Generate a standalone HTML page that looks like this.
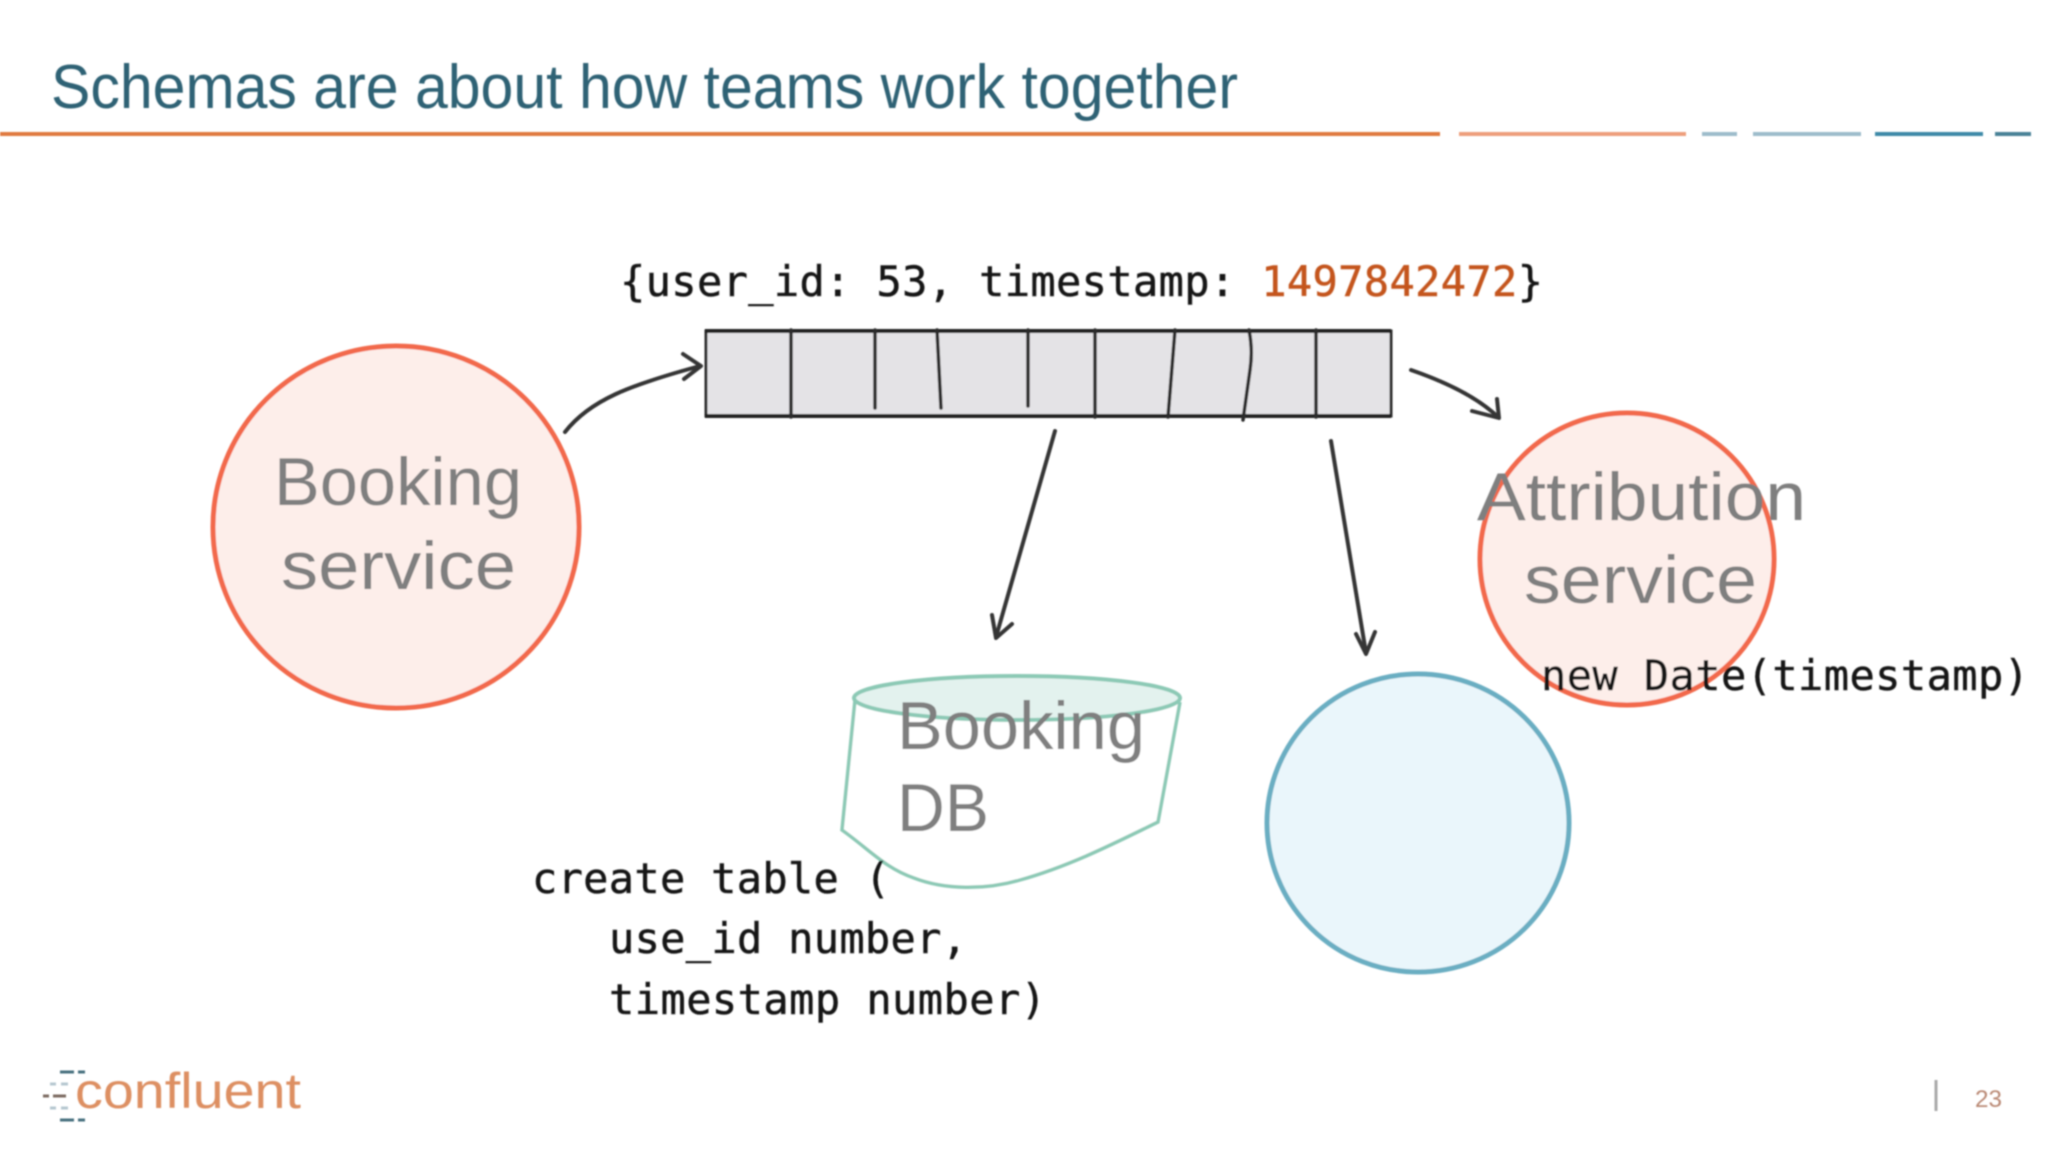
<!DOCTYPE html>
<html lang="en">
<head>
<meta charset="utf-8">
<title>Schemas are about how teams work together</title>
<style>
html,body{margin:0;padding:0;background:#fff;width:2048px;height:1152px;overflow:hidden}
svg{display:block}
.mono{font-family:"DejaVu Sans Mono","Liberation Mono",monospace;font-size:42px;fill:#151515;stroke:#151515;stroke-width:.5px}
.hand{font-family:"Liberation Sans",sans-serif;fill:#7f7f7f;font-size:68px}
</style>
</head>
<body>
<svg width="2048" height="1152" viewBox="0 0 2048 1152" xmlns="http://www.w3.org/2000/svg">
<defs><filter id="b" x="-5%" y="-5%" width="110%" height="110%"><feGaussianBlur stdDeviation="0.7"/></filter></defs>
<g filter="url(#b)">
<text x="51" y="108" font-family="Liberation Sans, sans-serif" font-size="62" fill="#2f6275" textLength="1187" lengthAdjust="spacingAndGlyphs">Schemas are about how teams work together</text>
<g stroke-width="4" fill="none">
<path d="M0 134H1440" stroke="#e07a3f"/>
<path d="M1459 134H1686" stroke="#ee9f7c"/>
<path d="M1702 134H1737M1753 134H1861" stroke="#9dbccb"/>
<path d="M1875 134H1983" stroke="#3c8aa8"/>
<path d="M1995 134H2031" stroke="#4a8297"/>
</g>

<ellipse cx="396" cy="527" rx="183" ry="181" fill="#fdeeea" stroke="#f2694c" stroke-width="5"/>
<text class="hand" x="274" y="505" textLength="248" lengthAdjust="spacingAndGlyphs">Booking</text>
<text class="hand" x="281" y="589" textLength="235" lengthAdjust="spacingAndGlyphs">service</text>

<text class="mono" x="620" y="296" textLength="923" lengthAdjust="spacing">{user_id: 53, timestamp: <tspan fill="#c4551f" stroke="#c4551f">1497842472</tspan>}</text>

<rect x="706" y="331" width="685" height="85" fill="#e4e3e6" stroke="#2f2f2f" stroke-width="3"/>
<path d="M705 331H1391" stroke="#222" stroke-width="4" fill="none"/>
<path d="M705 416H1391" stroke="#222" stroke-width="4" fill="none"/>
<g stroke="#2b2b2b" stroke-width="3.5" fill="none" stroke-linecap="round">
<path d="M791 330V417"/>
<path d="M875 330V408"/>
<path d="M937 330L941 408"/>
<path d="M1028 330V406"/>
<path d="M1095 330V417"/>
<path d="M1175 330L1168 417"/>
<path d="M1249 330Q1253 350 1250 370L1243 420"/>
<path d="M1316 330V417"/>
</g>

<g stroke="#363636" stroke-width="4" fill="none" stroke-linecap="round" stroke-linejoin="round">
<path d="M565 432C590 400 630 385 700 366"/>
<path d="M683 354L701 366L684 379"/>
<path d="M1411 370C1440 380 1475 395 1498 417"/>
<path d="M1472 411L1499 418L1497 399"/>
<path d="M1055 431L996 637"/>
<path d="M992 615L996 638L1012 624"/>
<path d="M1331 441L1366 653"/>
<path d="M1356 634L1366 654L1375 632"/>
</g>

<ellipse cx="1627" cy="559" rx="147" ry="146" fill="#fdeeea" stroke="#f2694c" stroke-width="5"/>
<text class="hand" x="1477" y="520" textLength="329" lengthAdjust="spacingAndGlyphs">Attribution</text>
<text class="hand" x="1524" y="603" textLength="233" lengthAdjust="spacingAndGlyphs">service</text>
<text class="mono" x="1541" y="690" textLength="488" lengthAdjust="spacing">new Date(timestamp)</text>

<path d="M855 700L842 830C870 850 885 868 914 878C945 890 985 890 1020 880C1070 866 1115 843 1158 822L1180 702" fill="#fff" stroke="#8cc9b5" stroke-width="3.5"/>
<ellipse cx="1017" cy="698" rx="163" ry="22" fill="#e3f2ee" stroke="#8cc9b5" stroke-width="4"/>
<text class="hand" x="897" y="749" textLength="248" lengthAdjust="spacingAndGlyphs">Booking</text>
<text class="hand" x="897" y="831" textLength="92" lengthAdjust="spacingAndGlyphs">DB</text>

<text class="mono" x="532" y="893" textLength="358" lengthAdjust="spacing">create table (</text>
<text class="mono" x="609" y="953" textLength="358" lengthAdjust="spacing">use_id number,</text>
<text class="mono" x="609" y="1014" textLength="437" lengthAdjust="spacing">timestamp number)</text>

<ellipse cx="1418" cy="823" rx="151" ry="149" fill="#eaf6fb" stroke="#6aaec2" stroke-width="5"/>

<g stroke-width="3" fill="none">
<path d="M60 1072H74M78 1072H85" stroke="#46707f"/>
<path d="M50 1084H56M61 1084H68" stroke="#b5c7d0"/>
<path d="M43 1096H49M53 1096H66" stroke="#7b6a60"/>
<path d="M50 1108H56M61 1108H68" stroke="#b5c7d0"/>
<path d="M60 1120H74M78 1120H85" stroke="#46707f"/>
</g>
<text x="75" y="1108" font-family="Liberation Sans, sans-serif" font-size="50" fill="#dd8f62" textLength="226" lengthAdjust="spacingAndGlyphs">confluent</text>

<path d="M1936 1080V1111" stroke="#a9a9a9" stroke-width="3"/>
<text x="1975" y="1107" font-family="Liberation Sans, sans-serif" font-size="24" fill="#b98873" textLength="27" lengthAdjust="spacingAndGlyphs">23</text>
</g>
</svg>
</body>
</html>
